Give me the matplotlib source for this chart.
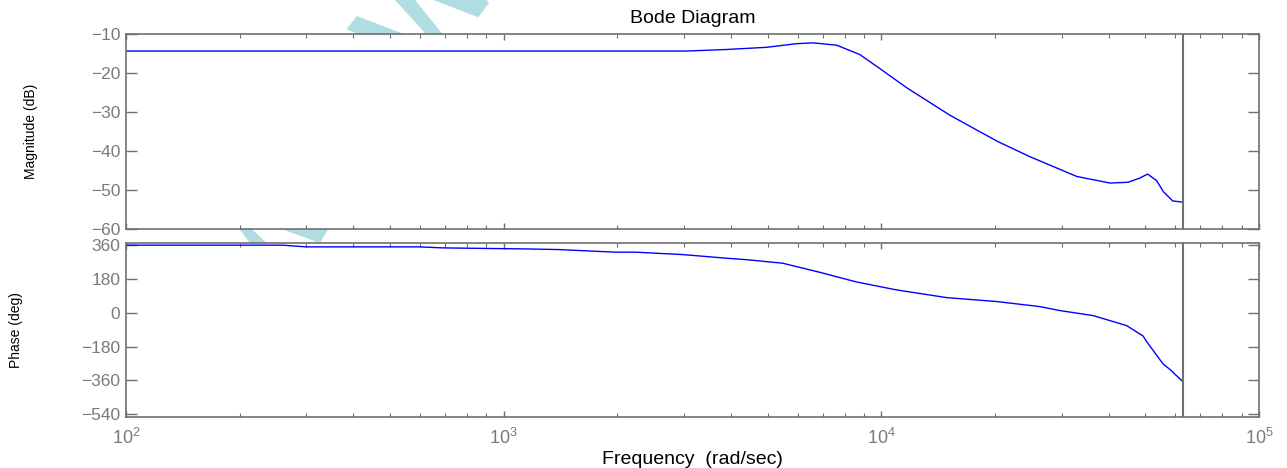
import matplotlib

matplotlib.use("Agg")
import matplotlib.pyplot as plt
from matplotlib.patches import Polygon

plt.rcParams["font.family"] = ["Liberation Sans", "DejaVu Sans"]

# frequency response samples (rad/sec, dB, deg)
MAG_FREQ = [100, 3048, 3890, 4960, 5970, 6600, 7620, 8770, 9910, 11660,
            15200, 20300, 24700, 32900, 40300, 45000, 48400, 50700, 53600,
            55800, 59100, 62832]
MAG_DB = [-14.3, -14.3, -13.9, -13.35, -12.4, -12.2, -12.8, -15.2, -18.8, -23.7,
          -30.8, -37.5, -41.4, -46.5, -48.2, -48.0, -46.9, -45.9, -47.6,
          -50.4, -52.8, -53.1]

PHASE_FREQ = [100, 260, 300, 597, 689, 1146, 1400, 1982, 2240, 2976, 3880,
              4380, 5480, 6860, 8580, 9910, 10970, 14880, 20200, 26300, 29700,
              36400, 44600, 49300, 50400, 55700, 58000, 62832]
PHASE_DEG = [360, 360, 351, 351, 345.6, 340, 336.6, 322.7, 322.7, 310, 290.8,
             283, 264, 216, 164.6, 139.5, 122, 81, 60, 33, 12,
             -15, -68, -123, -153, -272, -300, -366]

NYQUIST = 62832
MAG_TICKS = [-60, -50, -40, -30, -20, -10]
PHASE_TICKS = [-540, -360, -180, 0, 180, 360]

W, H = 1287, 468
FRAME = "#6f6f6f"
LABEL_GREY = "#7a7a7a"

# faint background stamp shapes, in pixel coords
STAMPS = [
    [(346.7, 29.3), (356.7, 16), (406.7, 35), (360, 35)],
    [(395, 0), (415, 0), (443.3, 35), (426.7, 35)],
    [(433.3, 0), (486.7, 0), (489, 3), (478.3, 17.3)],
    [(239.3, 229), (251.7, 229), (266.7, 243), (250, 243)],
    [(281.7, 229), (328.3, 229), (320, 243)],
]


def style_axis(ax, ticks):
    ax.set_xscale("log")
    ax.set_xlim(1e2, 1e5)
    ax.set_yticks(ticks)
    for spine in ax.spines.values():
        spine.set_color(FRAME)
        spine.set_linewidth(1.2)
    ax.tick_params(axis="y", which="both", direction="in", length=8, width=1,
                   color=FRAME, labelcolor=LABEL_GREY, labelsize=12.5,
                   left=True, right=True, pad=4)
    ax.tick_params(axis="x", which="major", direction="in", length=4.5, width=1,
                   color=FRAME, labelcolor=LABEL_GREY, labelsize=13,
                   top=True, bottom=True, pad=8)
    ax.tick_params(axis="x", which="minor", direction="in", length=3.2, width=0.8,
                   color=FRAME, top=True, bottom=True)
    ax.axvline(NYQUIST, color=FRAME, linewidth=1.5)


fig = plt.figure(figsize=(W / 100, H / 100), dpi=100)

for pts in STAMPS:
    fig.patches.append(Polygon([(x / W, 1 - y / H) for x, y in pts], closed=True,
                               transform=fig.transFigure, facecolor="#b0dde4",
                               edgecolor="none", zorder=-1))

ax_mag = fig.add_axes([126 / W, 1 - 229 / H, 1133 / W, 194.7 / H])
ax_ph = fig.add_axes([126 / W, 1 - 416.7 / H, 1133 / W, 173.4 / H])

ax_mag.plot(MAG_FREQ, MAG_DB, color="#0000ff", linewidth=1.0)
style_axis(ax_mag, MAG_TICKS)
ax_mag.set_ylim(-60, -10)
ax_mag.tick_params(axis="x", which="both", labelbottom=False)
ax_mag.set_title("Bode Diagram", fontsize=14, color="black", pad=8)
ax_mag.set_ylabel("Magnitude (dB)", fontsize=10, color="black")
ax_mag.yaxis.set_label_coords(-0.0777, 0.5)

ax_ph.plot(PHASE_FREQ, PHASE_DEG, color="#0000ff", linewidth=1.0)
style_axis(ax_ph, PHASE_TICKS)
ax_ph.set_ylim(-553, 370)
ax_ph.set_ylabel("Phase (deg)", fontsize=10, color="black")
ax_ph.yaxis.set_label_coords(-0.091, 0.5)
ax_ph.set_xlabel("Frequency  (rad/sec)", fontsize=14, color="black", labelpad=2)

fig.savefig("out.png", dpi=100)
